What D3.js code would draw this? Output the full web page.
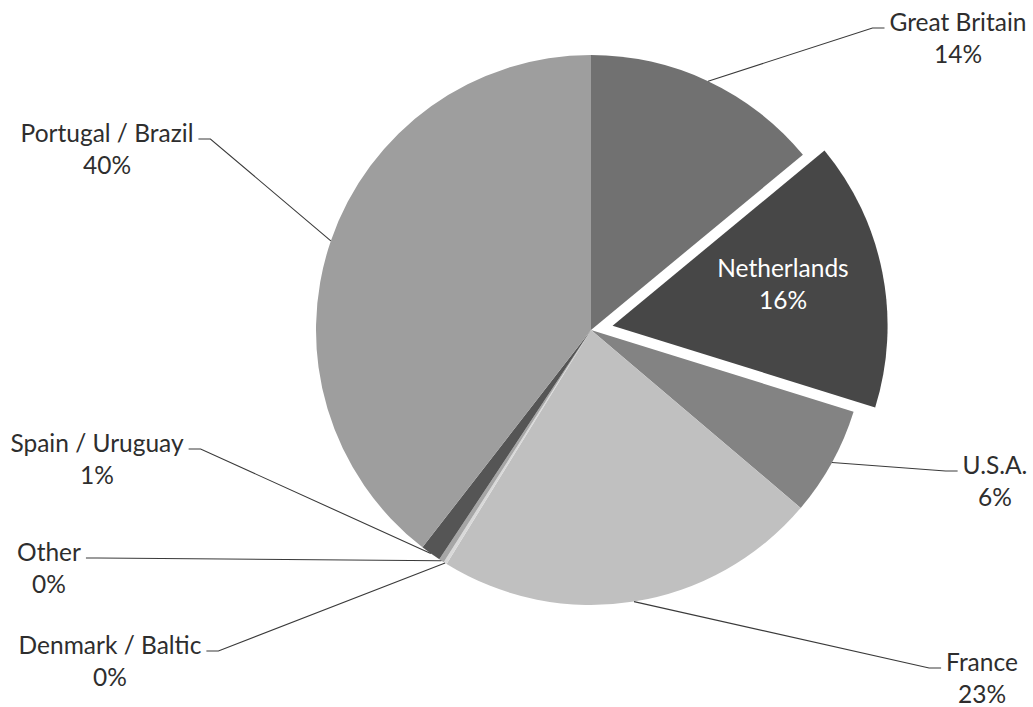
<!DOCTYPE html>
<html>
<head>
<meta charset="utf-8">
<script src="https://cdn.jsdelivr.net/npm/d3@7"></script>
<style>
  html, body { margin: 0; padding: 0; background: #ffffff; }
  svg { display: block; }
</style>
</head>
<body>
<svg id="chart" width="1033" height="707"></svg>
<script>
// ---- data ----
const categories = ["Great Britain", "Netherlands", "U.S.A.", "France", "Denmark / Baltic", "Other", "Spain / Uruguay", "Portugal / Brazil"];
const values = [14.0, 15.8, 6.4, 22.6, 0.2, 0.3, 1.2, 39.5];

// ---- styling / layout (not data) ----
const colors = ["#717171", "#474747", "#838383", "#c0c0c0", "#d9d9d9", "#a6a6a6", "#555555", "#9e9e9e"];
const explode = [0, 22, 0, 0, 0, 0, 0, 0];
const labelInside = [false, true, false, false, false, false, false, false];
const labelCenters = [[958, 22], [783, 268], [995, 465], [982, 662], [110, 645], [49, 552], [97, 443], [107, 133]];

const W = 1033, H = 707;
const cx = 591, cy = 330, R = 275;
const fontSize = 24.5, lineGap = 32;
const textColor = "#2e2e2e";

const svg = d3.select("#chart");
const total = d3.sum(values);
const data = categories.map((c, i) => ({ name: c, value: values[i], i }));

const pie = d3.pie().value(d => d.value).sort(null).startAngle(0).endAngle(2 * Math.PI);
const arcs = pie(data);
const arc = d3.arc().innerRadius(0).outerRadius(R);

const g = svg.append("g").attr("transform", `translate(${cx},${cy})`);

g.selectAll("path.slice")
  .data(arcs)
  .join("path")
  .attr("class", "slice")
  .attr("d", arc)
  .attr("fill", d => colors[d.data.i])
  .attr("transform", d => {
    const e = explode[d.data.i];
    if (!e) return null;
    const a = (d.startAngle + d.endAngle) / 2;
    return `translate(${e * Math.sin(a)},${-e * Math.cos(a)})`;
  });

const pct = v => Math.round(v / total * 100) + "%";

// labels
const labels = svg.append("g").attr("font-family", "Lato, 'Open Sans', sans-serif").attr("font-size", fontSize);

arcs.forEach(d => {
  const i = d.data.i;
  const [lx, ly] = labelCenters[i];
  const t = labels.append("text")
    .attr("text-anchor", "middle")
    .attr("fill", labelInside[i] ? "#ffffff" : textColor);
  t.append("tspan").attr("x", lx).attr("y", ly).attr("dy", "0.35em").text(d.data.name);
  t.append("tspan").attr("x", lx).attr("y", ly + lineGap).attr("dy", "0.35em").text(pct(d.data.value));

  if (labelInside[i]) return;
  const w = t.select("tspan").node().getComputedTextLength();
  const a = (d.startAngle + d.endAngle) / 2;
  const sx = cx + R * Math.sin(a), sy = cy - R * Math.cos(a);
  const right = lx > cx;
  const ey = ly + 6;
  const endX = right ? lx - w / 2 - 5 : lx + w / 2 + 5;
  const elbowX = right ? endX - 12 : endX + 12;
  svg.insert("polyline", "g + g")
    .attr("points", [[sx, sy], [elbowX, ey], [endX, ey]].map(p => p.join(",")).join(" "))
    .attr("fill", "none")
    .attr("stroke", "#3a3a3a")
    .attr("stroke-width", 1.1);
});
</script>
</body>
</html>
